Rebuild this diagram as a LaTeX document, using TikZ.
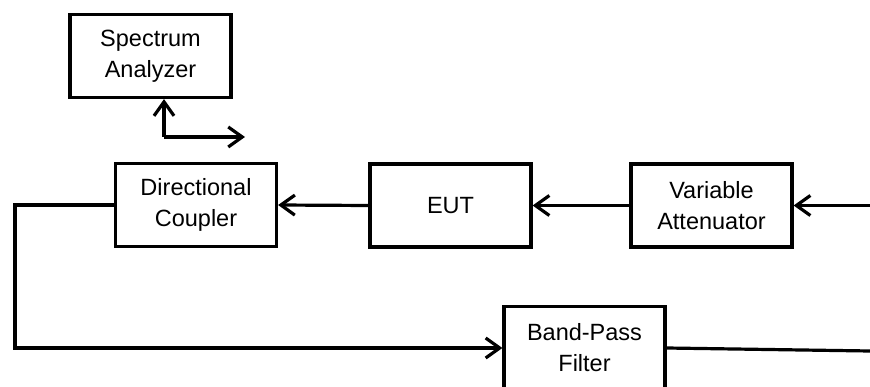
\documentclass[tikz,border=0pt]{standalone}
\usepackage{fontspec}
\setmainfont{Liberation Sans}
\usetikzlibrary{arrows.meta,calc,positioning}

\begin{document}
\begin{tikzpicture}[x=1pt,y=-1pt,>={Straight Barb[length=14pt,width=20pt]},
    line width=3.2pt,
    blockbox/.style={draw,line width=3.2pt,minimum width=161pt,minimum height=83pt,
      align=center,font=\fontsize{23.5}{31}\selectfont,inner sep=0pt}]
    \useasboundingbox (0,0) rectangle (870,387);
    \node[blockbox] (sa) at (150.5,56) {Spectrum\\Analyzer};
    \node[blockbox] (dc) at (196,205) {Directional\\Coupler};
    \node[blockbox] (eut) at (450.5,205.5) {EUT};
    \node[blockbox] (va) at (711.5,205.5) {Variable\\Attenuator};
    \node[blockbox] (bpf) at (584.5,348) {Band-Pass\\Filter};
    \coordinate (tap) at (164,137);
    \coordinate (tapout) at (245,137);
    \coordinate (src) at (870,205.5);
    \coordinate (lft) at (15,205);
    \coordinate (sink) at (870,351);
    % main chain
    \draw[->] (src) -- (va.east);
    \draw[->] (va.west) -- (eut.east);
    \draw[->] (eut.west) -- (dc.east);
    % loop back through the filter
    \draw[->] (dc.west) -- (lft) |- (bpf.west);
    \draw (bpf.east) -- (sink);
    % analyzer port
    \draw[->] (tap) -- (tap |- sa.south);
    \draw[->] (tap) -- (tapout);
  \end{tikzpicture}
\end{document}
